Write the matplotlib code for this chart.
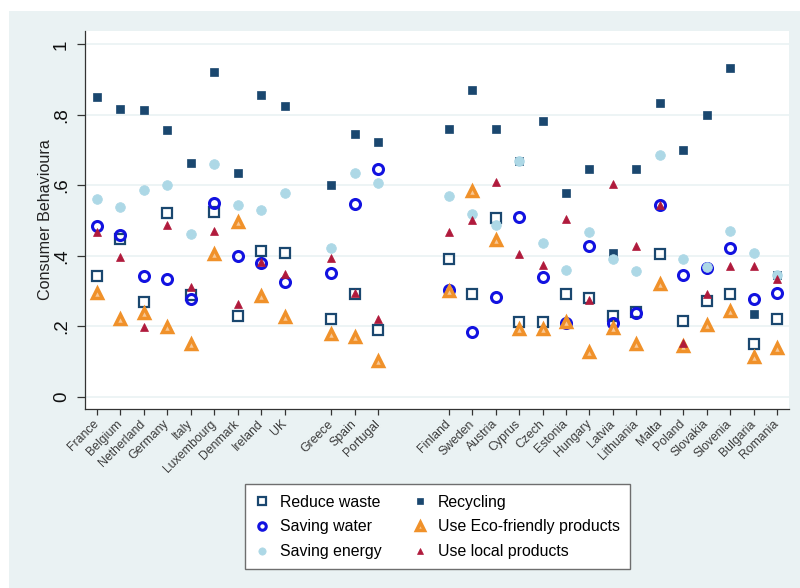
import matplotlib
matplotlib.use("Agg")
import matplotlib.pyplot as plt
from matplotlib.patches import Rectangle

countries = ["France", "Belgium", "Netherland", "Germany", "Italy", "Luxembourg",
             "Denmark", "Ireland", "UK",
             "Greece", "Spain", "Portugal",
             "Finland", "Sweden", "Austria", "Cyprus", "Czech", "Estonia", "Hungary",
             "Latvia", "Lithuania", "Malta", "Poland", "Slovakia", "Slovenia",
             "Bulgaria", "Romania"]
xpos = [1, 2, 3, 4, 5, 6, 7, 8, 9,
        11, 12, 13,
        16, 17, 18, 19, 20, 21, 22, 23, 24, 25, 26, 27, 28, 29, 30]

reduce_waste = [0.343, 0.447, 0.270, 0.521, 0.289, 0.526, 0.230, 0.415, 0.408,
                0.221, 0.291, 0.190,
                0.391, 0.291, 0.507, 0.214, 0.214, 0.291, 0.282, 0.230, 0.242,
                0.405, 0.216, 0.272, 0.293, 0.151, 0.222]
recycling = [0.850, 0.816, 0.813, 0.758, 0.665, 0.922, 0.636, 0.856, 0.826,
             0.600, 0.746, 0.722,
             0.761, 0.871, 0.761, 0.668, 0.782, 0.579, 0.646, 0.408, 0.646,
             0.835, 0.701, 0.800, 0.932, 0.235, 0.346]
saving_water = [0.486, 0.460, 0.343, 0.334, 0.278, 0.550, 0.399, 0.380, 0.327,
                0.353, 0.548, 0.648,
                0.304, 0.185, 0.285, 0.510, 0.341, 0.211, 0.428, 0.211, 0.237,
                0.544, 0.346, 0.365, 0.424, 0.277, 0.294]
eco_friendly = [0.296, 0.221, 0.237, 0.199, 0.150, 0.405, 0.496, 0.287, 0.227,
                0.178, 0.171, 0.102,
                0.302, 0.583, 0.445, 0.193, 0.193, 0.214, 0.129, 0.197, 0.150,
                0.320, 0.145, 0.204, 0.245, 0.114, 0.138]
saving_energy = [0.561, 0.538, 0.588, 0.600, 0.462, 0.661, 0.545, 0.530, 0.579,
                 0.424, 0.634, 0.606,
                 0.570, 0.520, 0.487, 0.668, 0.436, 0.360, 0.469, 0.391, 0.357,
                 0.686, 0.391, 0.370, 0.472, 0.409, 0.346]
local_products = [0.469, 0.396, 0.199, 0.488, 0.311, 0.472, 0.264, 0.382, 0.349,
                  0.393, 0.294, 0.220,
                  0.468, 0.502, 0.611, 0.406, 0.375, 0.506, 0.275, 0.603, 0.429,
                  0.544, 0.152, 0.291, 0.372, 0.372, 0.335]

yticks = [0, 0.2, 0.4, 0.6, 0.8, 1.0]
yticklabels = ["0", ".2", ".4", ".6", ".8", "1"]

BG = "#eaf2f3"
NAVY = "#1a476f"
BLUE = "#1212e0"
LTBLUE = "#add8e6"
ORANGE = "#f0912a"
CRAN = "#b01a3c"

plt.rcParams["font.family"] = ["Liberation Sans", "DejaVu Sans"]

fig = plt.figure(figsize=(8.0, 5.88), dpi=100)
fig.patch.set_facecolor("white")
fig.add_artist(Rectangle((9 / 800, 0), 1, (588 - 11) / 588, transform=fig.transFigure,
                         facecolor=BG, edgecolor="none", zorder=0))

ax = fig.add_axes([85 / 800, (588 - 409) / 588, 704 / 800, 378 / 588])
ax.set_facecolor("white")

h_rw, = ax.plot(xpos, reduce_waste, ls="none", marker="s", ms=7.2, mfc="none",
                mec=NAVY, mew=1.6, label="Reduce waste", zorder=3)
h_rc, = ax.plot(xpos, recycling, ls="none", marker="s", ms=6.0, mfc=NAVY,
                mec=NAVY, mew=0.5, label="Recycling", zorder=4)
h_sw, = ax.plot(xpos, saving_water, ls="none", marker="o", ms=7.2, mfc="none",
                mec=BLUE, mew=2.2, label="Saving water", zorder=5)
h_eco, = ax.plot(xpos, eco_friendly, ls="none", marker="^", ms=7.0, mfc="#f8c896",
                 mec=ORANGE, mew=2.5, label="Use Eco-friendly products", zorder=6)
h_se, = ax.plot(xpos, saving_energy, ls="none", marker="o", ms=7.0, mfc=LTBLUE,
                mec=LTBLUE, mew=0.5, label="Saving energy", zorder=7)
h_lp, = ax.plot(xpos, local_products, ls="none", marker="^", ms=5.5, mfc=CRAN,
                mec=CRAN, mew=0.5, label="Use local products", zorder=8)

ax.set_xlim(0.49, 30.51)
ax.set_ylim(-0.034, 1.038)

ax.set_yticks(yticks)
ax.set_yticklabels(yticklabels, rotation=90, va="center", fontsize=13.5, color="#111111")
ax.set_xticks(xpos)
ax.set_xticklabels(countries, rotation=45, ha="right", va="center",
                   rotation_mode="anchor", fontsize=8.8, color="#3a3a3a")
ax.tick_params(axis="y", length=5.8, width=0.9, color="#333333", pad=5)
ax.tick_params(axis="x", length=4.5, width=0.9, color="#333333", pad=5)

ax.grid(axis="y", color=BG, lw=1.2, zorder=0)
ax.grid(axis="x", visible=False)
ax.set_axisbelow(True)

for s in ["top", "right"]:
    ax.spines[s].set_visible(False)
for s in ["left", "bottom"]:
    ax.spines[s].set_color("#333333")
    ax.spines[s].set_linewidth(0.9)

ax.set_ylabel("Consumer Behavioura", fontsize=11.6, color="#222222", labelpad=0)

leg = fig.legend(handles=[h_rw, h_sw, h_se, h_rc, h_eco, h_lp], ncol=2,
                 loc="center", bbox_to_anchor=(0.547, 0.104),
                 fontsize=11.4, frameon=True, fancybox=False, markerscale=0.75,
                 handlelength=0.8, handletextpad=0.75, columnspacing=2.0,
                 labelspacing=0.62, borderpad=0.65)
leg.get_frame().set_edgecolor("#6e6e6e")
leg.get_frame().set_linewidth(1.0)
leg.get_frame().set_facecolor("white")
leg.get_frame().set_alpha(1.0)

fig.savefig("out.png", dpi=100, facecolor=fig.get_facecolor())
